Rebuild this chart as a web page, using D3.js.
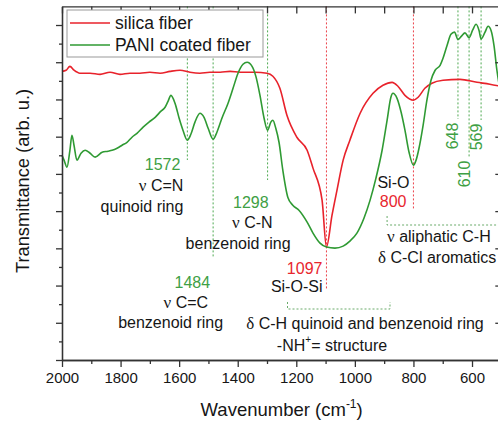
<!DOCTYPE html>
<html>
<head>
<meta charset="utf-8">
<script src="https://cdn.jsdelivr.net/npm/d3@7"></script>
<style>
  body { margin: 0; background: #fff; }
  svg { display: block; }
  text { font-family: "Liberation Sans", Arial, sans-serif; }
</style>
</head>
<body>
<svg id="chart" width="498" height="423"></svg>
<script>
// FTIR spectra: bare silica fiber vs. PANI coated fiber
const silicaWavenumber = [2000,1986,1973,1959,1939,1904,1870,1836,1802,1768,1734,1700,1665,1631,1597,1563,1529,1495,1460,1426,1392,1341,1300,1280,1256,1232,1198,1163,1143,1112,1097,1078,1061,1040,1017,982,938,904,873,853,829,800,784,761,737,699,641,583,539,504];
const silicaT = [15.51,15.57,15.78,15.57,15.41,15.41,15.35,15.46,15.35,15.41,15.41,15.46,15.41,15.51,15.57,15.46,15.41,15.46,15.46,15.51,15.46,15.46,15.41,15.25,14.60,13.15,11.97,11.27,10.31,8.59,6.07,7.78,9.13,10.74,11.81,13.26,14.33,14.76,14.92,14.71,14.22,13.96,14.12,14.60,14.87,15.03,15.08,14.92,14.82,14.71];

const paniWavenumber = [2000,1993,1983,1973,1966,1959,1949,1935,1921,1904,1887,1863,1843,1829,1812,1795,1778,1761,1744,1723,1703,1682,1662,1648,1638,1628,1614,1600,1587,1572,1560,1546,1529,1515,1501,1484,1471,1454,1433,1416,1399,1382,1368,1351,1338,1324,1310,1298,1287,1280,1270,1259,1246,1229,1212,1191,1163,1143,1119,1097,1068,1040,1017,993,969,948,928,907,890,877,870,856,842,829,815,800,791,781,767,754,740,726,709,699,685,672,660,648,636,624,610,598,586,576,569,556,545,535,525,515,504];
const paniT = [11.00,10.74,10.36,11.27,12.08,11.54,10.74,11.11,11.27,11.11,10.90,11.16,11.22,11.27,11.38,11.54,11.70,11.97,12.18,12.51,12.78,13.04,13.37,13.58,13.90,14.22,13.79,12.99,12.35,11.81,12.13,12.78,13.26,13.04,12.45,11.86,12.24,12.99,13.80,14.60,15.41,15.89,16.00,15.78,15.24,14.22,12.99,12.35,12.78,12.88,12.45,11.70,10.20,8.75,8.32,8.05,7.41,6.82,6.28,6.07,6.01,6.12,6.39,6.82,7.62,8.59,9.77,11.27,12.88,14.12,14.33,14.06,13.31,12.35,11.16,10.47,10.74,11.38,12.61,13.96,15.03,15.57,15.83,16.21,16.91,17.50,17.62,17.23,17.40,17.58,17.32,17.72,18.04,17.71,17.25,17.60,17.93,17.71,16.91,15.57,14.49];

const xMajorTicks = [2000,1800,1600,1400,1200,1000,800,600];
const xMinorTicks = [1900,1700,1500,1300,1100,900,700,500];
const yMajorTicks = [0,2,4,6,8,10,12,14,16,18];
const yMinorTicks = [1,3,5,7,9,11,13,15,17];
const seriesNames = ["silica fiber", "PANI coated fiber"];

const RED = "#e8222b", GREEN = "#2f9a33";
const TXT_GREEN = "#3ea044", TXT_RED = "#e8262e", TXT = "#161616";

const svg = d3.select("#chart");
const mLeft = 62, mRight = 501.3, mTop = 6.4, mBottom = 360;
const x = d3.scaleLinear().domain([2000, 500]).range([mLeft, mRight]);
const y = d3.scaleLinear().domain([0, 19]).range([mBottom, mTop]);

// dotted guide lines, drawn first so curves sit on top
const guides = [
  {wn: 1572, y2: 160, c: GREEN},
  {wn: 1484, y2: 258, c: GREEN},
  {wn: 1298, y2: 180, c: GREEN},
  {wn: 1097, y2: 290, c: RED},
  {wn: 800,  y2: 209, c: RED},
  {wn: 648,  y2: 119, c: GREEN},
  {wn: 610,  y2: 157, c: GREEN},
  {wn: 569,  y2: 120, c: GREEN}
];
svg.append("g").selectAll("line").data(guides).join("line")
  .attr("x1", d => x(d.wn)).attr("x2", d => x(d.wn))
  .attr("y1", mTop).attr("y2", d => d.y2)
  .attr("stroke", d => d.c).attr("stroke-opacity", 0.85)
  .attr("stroke-width", 1).attr("stroke-dasharray", "2,2");

// brackets grouping bands
const bracket = svg.append("g").attr("fill", "none").attr("stroke", "#6aab6a")
  .attr("stroke-width", 1).attr("stroke-dasharray", "2,2");
bracket.append("path").attr("d", `M${x(1230)},302V309H${x(880)}V302`);
bracket.append("path").attr("d", `M${x(890)},216V225H${x(500)}`);

// curves
const line = d3.line().curve(d3.curveMonotoneX).x(d => x(d[0])).y(d => y(d[1]));
svg.append("path").datum(silicaWavenumber.map((w, i) => [w, silicaT[i]]))
  .attr("d", line).attr("fill", "none").attr("stroke", RED).attr("stroke-width", 1.6);
svg.append("path").datum(paniWavenumber.map((w, i) => [w, paniT[i]]))
  .attr("d", line).attr("fill", "none").attr("stroke", GREEN).attr("stroke-width", 1.6);

// axes
function styleAxis(g) {
  g.selectAll("path, line").attr("stroke", "#333").attr("stroke-width", 1.3);
  g.selectAll("text").attr("font-size", 15).attr("fill", TXT)
    .attr("font-family", "Liberation Sans, Arial, sans-serif");
}
svg.append("g").attr("transform", `translate(0,${mBottom})`)
  .call(d3.axisBottom(x).tickValues(xMajorTicks).tickFormat(d3.format("d"))
    .tickSize(7).tickSizeOuter(0).tickPadding(5))
  .call(styleAxis);
svg.append("g").attr("transform", `translate(0,${mBottom})`)
  .call(d3.axisBottom(x).tickValues(xMinorTicks).tickSize(4).tickSizeOuter(0).tickFormat(""))
  .call(styleAxis);
svg.append("g").attr("transform", `translate(0,${mTop})`)
  .call(d3.axisTop(x).tickValues(xMajorTicks.concat(xMinorTicks)).tickSize(-7).tickSizeOuter(0).tickFormat(""))
  .call(styleAxis);
svg.append("g").attr("transform", `translate(${mLeft},0)`)
  .call(d3.axisLeft(y).tickValues(yMajorTicks).tickSize(6).tickSizeOuter(0).tickFormat(""))
  .call(styleAxis);
svg.append("g").attr("transform", `translate(${mLeft},0)`)
  .call(d3.axisLeft(y).tickValues(yMinorTicks).tickSize(3).tickSizeOuter(0).tickFormat(""))
  .call(styleAxis);
svg.append("g").attr("transform", `translate(${mRight},0)`)
  .call(d3.axisRight(y).tickValues(yMajorTicks.slice(1)).tickSize(-6).tickSizeOuter(0).tickFormat(""))
  .call(styleAxis);

// axis titles
svg.append("text").attr("x", (mLeft + mRight) / 2).attr("y", 416)
  .attr("text-anchor", "middle").attr("font-size", 18.5).attr("fill", TXT)
  .call(t => {
    t.append("tspan").text("Wavenumber (cm");
    t.append("tspan").attr("dy", -8).attr("font-size", 12).text("-1");
    t.append("tspan").attr("dy", 8).text(")");
  });
svg.append("text").attr("transform", `translate(29,181) rotate(-90)`)
  .attr("text-anchor", "middle").attr("font-size", 18.3).attr("fill", TXT)
  .text("Transmittance (arb. u.)");

// legend
const lg = svg.append("g");
lg.append("rect").attr("x", 67).attr("y", 10).attr("width", 196).attr("height", 47)
  .attr("fill", "#fff").attr("stroke", "#999").attr("stroke-width", 1);
[RED, GREEN].forEach((c, i) => {
  const yy = 23 + i * 22;
  lg.append("line").attr("x1", 70).attr("x2", 110).attr("y1", yy).attr("y2", yy)
    .attr("stroke", c).attr("stroke-width", 1.6);
  lg.append("text").attr("x", 115).attr("y", yy + 6).attr("font-size", 17.5)
    .attr("fill", TXT).text(seriesNames[i]);
});

// band annotations
const serif = "Liberation Serif, Times New Roman, serif";
function label(txt, xp, yp, color, anchor) {
  const t = svg.append("text").attr("x", xp).attr("y", yp).attr("font-size", 16)
    .attr("fill", color || TXT).attr("text-anchor", anchor || "end")
    .attr("dominant-baseline", "central");
  const m = txt.match(/^([νδ])(.*)$/);
  if (m) {
    t.append("tspan").attr("font-family", serif).attr("font-size", 17).text(m[1]);
    t.append("tspan").text(m[2]);
  } else t.text(txt);
  return t;
}
label("1572", x(1572) - 7, 164, TXT_GREEN);
label("ν C=N", x(1572) - 4, 185);
label("quinoid ring", x(1572) - 4, 206);

label("1298", x(1298) + 1, 202, TXT_GREEN);
label("ν C-N", x(1298) + 5, 222);
label("benzenoid ring", x(1298) + 23, 243);

label("1484", x(1484) - 3, 282, TXT_GREEN);
label("ν C=C", x(1484) - 5, 302);
label("benzenoid ring", x(1484) + 10, 322);

label("1097", x(1097) - 4, 268, TXT_RED);
label("Si-O-Si", x(1097) - 4, 286);

label("Si-O", x(800) - 4, 182);
label("800", x(800) - 7, 201, TXT_RED);

label("ν aliphatic C-H", 387, 236, TXT, "start");
label("δ C-Cl aromatics", 378, 257, TXT, "start");

label("δ C-H quinoid and benzenoid ring", 365, 323, TXT, "middle");
const nh = svg.append("text").attr("x", 332).attr("y", 345).attr("font-size", 16)
  .attr("fill", TXT).attr("text-anchor", "middle").attr("dominant-baseline", "central");
nh.append("tspan").text("-NH");
nh.append("tspan").attr("dy", -6).attr("font-size", 10).text("+");
nh.append("tspan").attr("dy", 6).text("= structure");

// rotated peak numbers
[[648, 136], [610, 174], [569, 137]].forEach(([wn, yp]) => {
  svg.append("text").attr("transform", `translate(${x(wn) - 5},${yp}) rotate(-90)`)
    .attr("text-anchor", "middle").attr("dominant-baseline", "central")
    .attr("font-size", 16).attr("fill", TXT_GREEN).text(wn);
});
</script>
</body>
</html>
